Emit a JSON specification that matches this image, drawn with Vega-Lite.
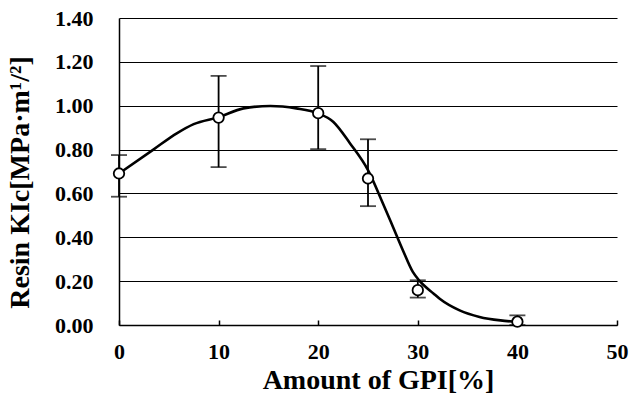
{
  "$schema": "https://vega.github.io/schema/vega-lite/v6.json",
  "width": 498,
  "height": 307,
  "autosize": "none",
  "padding": {"left": 119, "top": 18, "right": 12, "bottom": 76},
  "background": "white",
  "config": {
    "view": {"stroke": null},
    "font": "Liberation Serif",
    "axis": {
      "labelFont": "Liberation Serif",
      "labelFontWeight": "bold",
      "labelFontSize": 22,
      "labelColor": "black",
      "labelFlush": false,
      "titleFont": "Liberation Serif",
      "titleFontWeight": "bold",
      "titleFontSize": 28,
      "titleColor": "black",
      "domainColor": "black",
      "domainWidth": 1.5,
      "tickColor": "black",
      "tickWidth": 1.5
    },
    "axisX": {"grid": false, "tickSize": -5, "labelPadding": 21, "titlePadding": 4, "titleX": 259},
    "axisY": {"grid": true, "gridColor": "black", "gridWidth": 1.2, "gridOpacity": 1, "ticks": false, "labelPadding": 26, "titlePadding": 20, "titleY": 164}
  },
  "datasets": {
    "points": [
      {"gpi": 0, "kic": 0.691, "lo": 0.585, "hi": 0.775},
      {"gpi": 10, "kic": 0.946, "lo": 0.72, "hi": 1.136},
      {"gpi": 20, "kic": 0.966, "lo": 0.802, "hi": 1.181},
      {"gpi": 25, "kic": 0.668, "lo": 0.542, "hi": 0.847},
      {"gpi": 30, "kic": 0.159, "lo": 0.125, "hi": 0.204},
      {"gpi": 40, "kic": 0.015, "lo": 0.0, "hi": 0.044}
    ],
    "curve": [
      {"gpi": 0, "kic": 0.691},
      {"gpi": 3.45, "kic": 0.8},
      {"gpi": 5.8, "kic": 0.874},
      {"gpi": 7.5, "kic": 0.916},
      {"gpi": 10, "kic": 0.948},
      {"gpi": 12.5, "kic": 0.988},
      {"gpi": 15.2, "kic": 0.999},
      {"gpi": 17.8, "kic": 0.988},
      {"gpi": 20, "kic": 0.965},
      {"gpi": 21.5, "kic": 0.927},
      {"gpi": 23.2, "kic": 0.828},
      {"gpi": 25, "kic": 0.706},
      {"gpi": 26.5, "kic": 0.554},
      {"gpi": 27.5, "kic": 0.448},
      {"gpi": 28.5, "kic": 0.341},
      {"gpi": 29.5, "kic": 0.242},
      {"gpi": 30.2, "kic": 0.2},
      {"gpi": 31.6, "kic": 0.143},
      {"gpi": 32.2, "kic": 0.12},
      {"gpi": 34.2, "kic": 0.067},
      {"gpi": 36.2, "kic": 0.037},
      {"gpi": 38.3, "kic": 0.021},
      {"gpi": 40, "kic": 0.014}
    ]
  },
  "layer": [
    {
      "data": {"name": "points"},
      "mark": {"type": "rule", "color": "black", "strokeWidth": 1.8},
      "encoding": {
        "x": {"field": "gpi", "type": "quantitative", "scale": {"domain": [0, 50]}, "title": "Amount of GPI[%]", "axis": {"values": [0, 10, 20, 30, 40, 50], "format": "d"}},
        "y": {"field": "lo", "type": "quantitative", "scale": {"domain": [0, 1.4]}, "title": "Resin KIc[MPa·m¹/²]", "axis": {"values": [0, 0.2, 0.4, 0.6, 0.8, 1.0, 1.2, 1.4], "format": ".2f"}},
        "y2": {"field": "hi"}
      }
    },
    {
      "data": {"name": "points"},
      "mark": {"type": "tick", "orient": "horizontal", "color": "black", "size": 16, "thickness": 1.8},
      "encoding": {
        "x": {"field": "gpi", "type": "quantitative", "title": "Amount of GPI[%]"},
        "y": {"field": "lo", "type": "quantitative", "title": "Resin KIc[MPa·m¹/²]"}
      }
    },
    {
      "data": {"name": "points"},
      "mark": {"type": "tick", "orient": "horizontal", "color": "black", "size": 16, "thickness": 1.8},
      "encoding": {
        "x": {"field": "gpi", "type": "quantitative", "title": "Amount of GPI[%]"},
        "y": {"field": "hi", "type": "quantitative", "title": "Resin KIc[MPa·m¹/²]"}
      }
    },
    {
      "data": {"name": "curve"},
      "mark": {"type": "line", "interpolate": "monotone", "color": "black", "strokeWidth": 2.6},
      "encoding": {
        "x": {"field": "gpi", "type": "quantitative", "title": "Amount of GPI[%]"},
        "y": {"field": "kic", "type": "quantitative", "title": "Resin KIc[MPa·m¹/²]"}
      }
    },
    {
      "data": {"name": "points"},
      "mark": {"type": "point", "shape": "circle", "filled": true, "fill": "white", "stroke": "black", "strokeWidth": 1.8, "size": 110, "opacity": 1},
      "encoding": {
        "x": {"field": "gpi", "type": "quantitative", "title": "Amount of GPI[%]"},
        "y": {"field": "kic", "type": "quantitative", "title": "Resin KIc[MPa·m¹/²]"}
      }
    }
  ]
}
